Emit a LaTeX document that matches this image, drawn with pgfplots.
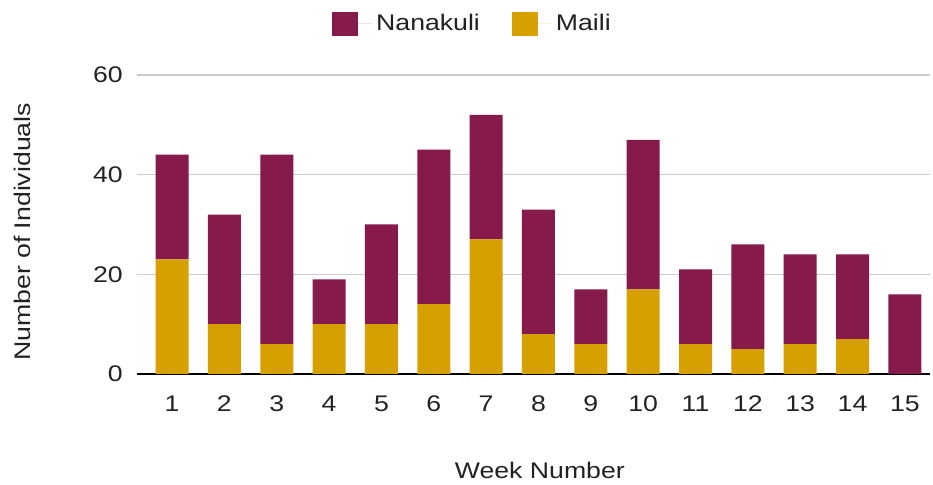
\documentclass[border=0pt]{standalone}
\usepackage{pgfplots}
\pgfplotsset{compat=1.18}
\usepackage{fontspec}
\setmainfont{Liberation Sans}[FakeStretch=1.18]
\definecolor{nana}{HTML}{861A4A}
\definecolor{maili}{HTML}{D6A000}
\definecolor{txt}{HTML}{222222}
\begin{document}
\fontsize{11.3}{13}\selectfont
\begin{tikzpicture}
\useasboundingbox (0,0) rectangle (466.5pt,242.5pt);
\begin{axis}[
  at={(68.5pt,55.5pt)}, anchor=south west,
  scale only axis, width=396.5pt, height=149.5pt,
  ybar stacked, bar width=16.5pt,
  xmin=0.33, xmax=15.48, ymin=0, ymax=60,
  xtick={1,...,15}, ytick={0,20,40,60},
  axis x line=bottom, axis y line=left,
  x axis line style={black, line width=1pt, -},
  y axis line style={draw=none},
  tick style={draw=none},
  ymajorgrids, major grid style={draw=black!20, line width=0.7pt},
  /pgf/number format/assume math mode=true,
  tick label style={font=\fontsize{11.3}{13}\selectfont, text=txt},
  yticklabel style={xshift=-1pt},
  xticklabel style={yshift=-5pt},
  xlabel={Week Number}, ylabel={Number of Individuals},
  label style={font=\fontsize{11.3}{13}\selectfont, text=txt},
  xlabel style={at={(axis description cs:0.508,-0.321)}, anchor=center},
  ylabel style={at={(axis description cs:-0.145,0.475)}, anchor=center},
  legend columns=2, reverse legend,
  legend style={at={(0.4243,1)}, anchor=center, yshift=25.5pt, draw=none, fill=none,
    font=\fontsize{11.3}{13}\selectfont, text=txt,
    /tikz/every even column/.append style={column sep=14pt}},
  legend image code/.code={\path (0pt,0pt) -- (20pt,0pt);\fill[#1] (0pt,-6.2pt) rectangle (13pt,6.2pt);},
]
\addplot[fill=maili, draw=none] coordinates {
(1,23) (2,10) (3,6) (4,10) (5,10) (6,14) (7,27) (8,8) (9,6) (10,17) (11,6) (12,5) (13,6) (14,7) (15,0)};
\addlegendentry{Maili}
\addplot[fill=nana, draw=none] coordinates {
(1,21) (2,22) (3,38) (4,9) (5,20) (6,31) (7,25) (8,25) (9,11) (10,30) (11,15) (12,21) (13,18) (14,17) (15,16)};
\addlegendentry{Nanakuli}
\end{axis}
\end{tikzpicture}
\end{document}
